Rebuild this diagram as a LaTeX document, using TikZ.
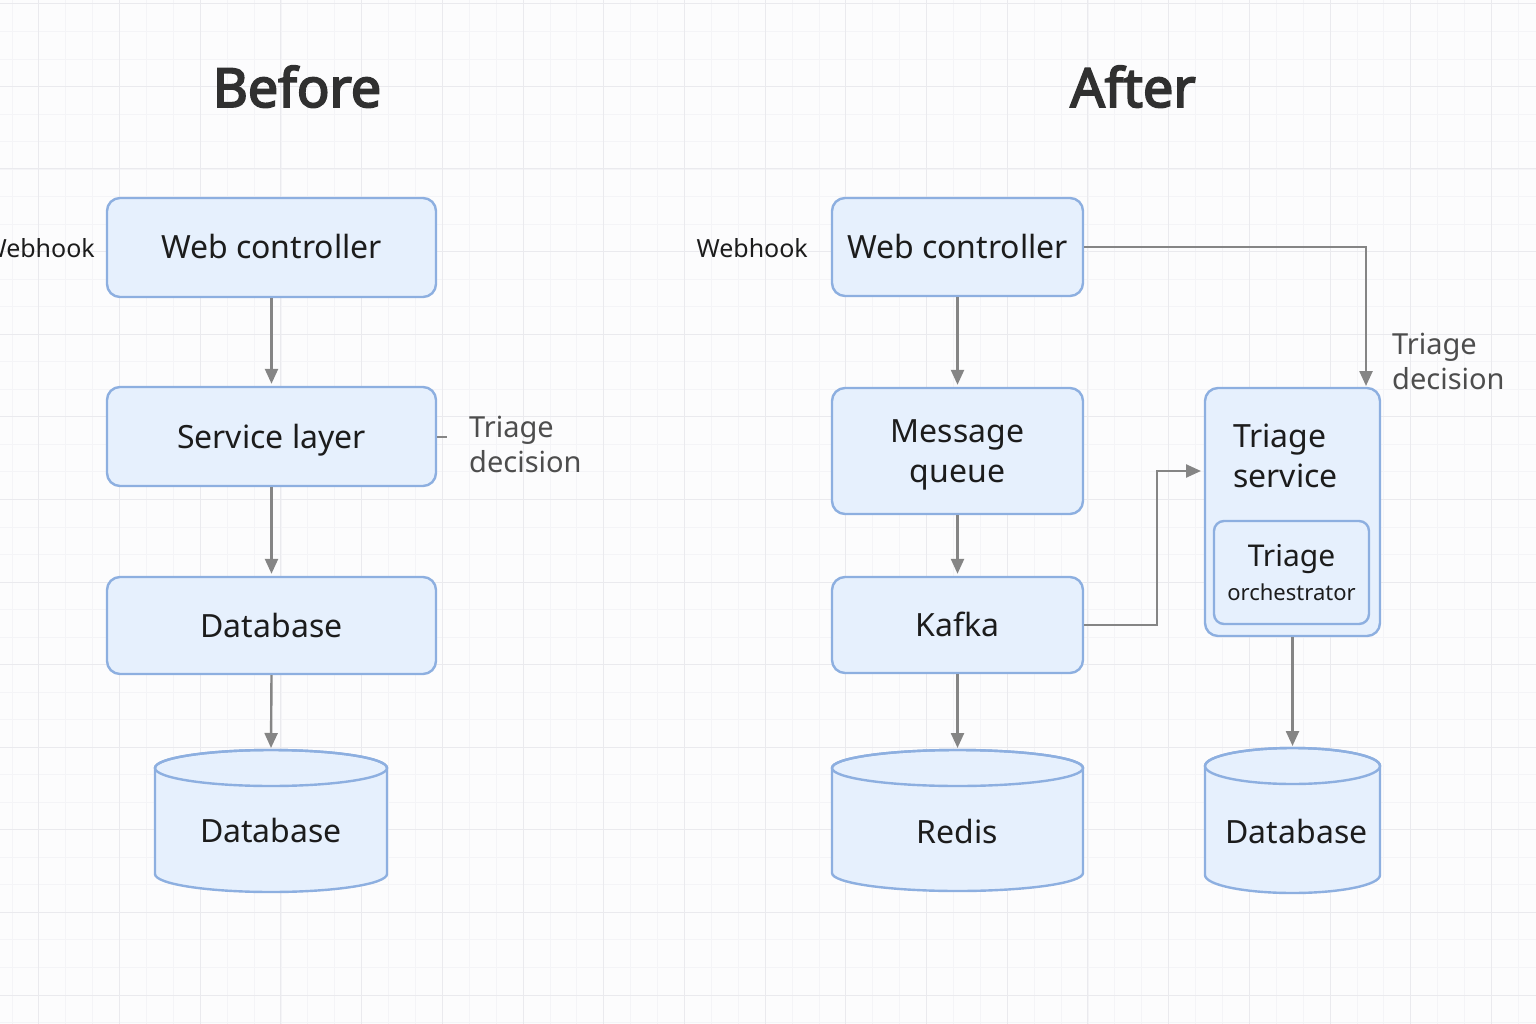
\documentclass[tikz,border=0pt]{standalone}
\usepackage{fontspec}
\setmainfont{Noto Sans}
\newfontfamily\titlefont{Noto Sans}[AutoFakeBold=3.4]
\usetikzlibrary{arrows.meta,calc}
\definecolor{bgc}{HTML}{FCFCFD}
\definecolor{gridminor}{HTML}{F4F4F7}
\definecolor{gridmajor}{HTML}{EAEAEE}
\definecolor{boxfill}{HTML}{E6F0FD}
\definecolor{boxline}{HTML}{8DAFE0}
\definecolor{arrowc}{HTML}{858585}
\definecolor{txtc}{HTML}{1C1C1C}
\definecolor{labc}{HTML}{4D4D4D}
\definecolor{titc}{HTML}{303030}
\newcommand\drawcyl[2]{%
  \path[cylfill] ([yshift=-18pt]#1.north west) -- ([yshift=18pt]#1.south west)
     arc[start angle=180,end angle=360,x radius=#2pt,y radius=18pt]
     -- ([yshift=-18pt]#1.north east)
     arc[start angle=0,end angle=180,x radius=#2pt,y radius=18pt] -- cycle;
  \draw[cylline] ([yshift=-18pt]#1.north) ellipse[x radius=#2pt,y radius=18pt];}
\begin{document}
\begin{tikzpicture}[x=1pt,y=1pt,
  box/.style={draw=boxline, line width=2.4pt, fill=boxfill, rounded corners=13pt,
     text=txtc, font=\fontsize{32}{40}\selectfont, text height=23pt, text depth=0pt, inner sep=0pt},
  multibox/.style={box, text height=, text depth=, align=center},
  innerbox/.style={draw=boxline, line width=2.4pt, fill=boxfill, rounded corners=10pt, inner sep=0pt},
  cylbox/.style={draw=none, inner sep=0pt, outer sep=0pt},
  cylfill/.style={draw=boxline, line width=2.4pt, fill=boxfill},
  cylline/.style={draw=boxline, line width=2.4pt},
  cyltext/.style={text=txtc, font=\fontsize{32}{40}\selectfont, text height=23pt, text depth=0pt, inner sep=0pt},
  lab/.style={text=labc, font=\fontsize{29}{35}\selectfont, align=left, inner sep=0pt},
  hook/.style={text=txtc, font=\fontsize{25}{30}\selectfont, text height=18pt, text depth=0pt, inner sep=0pt},
  title/.style={text=titc, font=\titlefont\fontsize{54}{60}\selectfont\bfseries, inner sep=0pt},
  arr/.style={draw=arrowc, line width=2.4pt, -{Triangle[length=15pt,width=13pt]}, shorten >=2pt},
  tick/.style={draw=arrowc, line width=2.4pt}
]
\useasboundingbox (0,0) rectangle (1536,-1024);
\fill[bgc] (0,0) rectangle (1536,-1024);
% grid
\foreach \i in {-20,...,38} \draw[gridminor, line width=0.8pt] ({523+26.9*\i},0) -- ({523+26.9*\i},-1024);
\foreach \i in {-21,...,16} \draw[gridminor, line width=0.8pt] (0,{-582-27.53*\i}) -- (1536,{-582-27.53*\i});
\foreach \i in {-6,...,12} \draw[gridmajor, line width=1pt] ({523+80.7*\i},0) -- ({523+80.7*\i},-1024);
\foreach \i in {-7,...,5} \draw[gridmajor, line width=1pt] (0,{-582-82.6*\i}) -- (1536,{-582-82.6*\i});

% titles
\node[title, anchor=base] (tbefore) at (297,-107) {Before};
\node[title, anchor=base] (tafter) at (1133,-107) {After};

% ---------- Before ----------
\node[box, minimum width=329pt, minimum height=99pt] (bwc) at (271.5,-247.5) {Web controller};
\node[hook, anchor=east] (bhook) at (95,-249) {Webhook};
\node[box, minimum width=329pt, minimum height=99pt] (bsl) at (271.5,-436.5) {Service layer};
\node[box, minimum width=329pt, minimum height=97pt] (bdb) at (271.5,-625.5) {Database};
\node[cylbox, minimum width=232pt, minimum height=142pt] (bcyl) at (271,-821) {};
\drawcyl{bcyl}{116}
\node[cyltext] (bcylt) at ([yshift=-10pt]bcyl.center) {Database};
\coordinate (btick) at (447,-437);
\draw[tick] (bsl.east |- btick) -- (btick);
\node[lab, anchor=north west] (btri) at (469,-416) {Triage\\decision};

\draw[arr] (bwc.south) -- (bsl.north);
\draw[arr] (bsl.south) -- (bdb.north);
\draw[arr] (bdb.south) -- (bcyl.north);

% ---------- After ----------
\node[box, minimum width=251pt, minimum height=98pt] (awc) at (957.5,-247) {Web controller};
\node[hook, anchor=east] (ahook) at (808,-249) {Webhook};
\node[multibox, minimum width=251pt, minimum height=126pt] (amq) at (957.5,-451) {\raisebox{0pt}[\dimexpr\height+8pt\relax]{Message}\\queue};
\node[box, minimum width=251pt, minimum height=96pt] (akf) at (957.5,-625) {Kafka};
\node[cylbox, minimum width=251pt, minimum height=141pt] (ared) at (957.5,-820.5) {};
\drawcyl{ared}{125.5}
\node[cyltext] (aredt) at ([yshift=-11pt]ared.center) {Redis};

\node[box, minimum width=175pt, minimum height=248pt] (ats) at (1292.5,-512) {};
\node[multibox, draw=none, fill=none, align=left, anchor=west] (atst) at (1232,-456) {Triage\\service};
\node[innerbox, minimum width=155pt, minimum height=103pt, align=center, text=txtc,
      font=\fontsize{22}{34}\selectfont] (aorch) at (1291.5,-572.5)
      {{\fontsize{30}{34}\selectfont Triage}\\orchestrator};
\node[cylbox, minimum width=175pt, minimum height=145pt] (adb) at (1292.5,-820.5) {};
\drawcyl{adb}{87.5}
\node[cyltext] (adbt) at ([xshift=4pt,yshift=-11.5pt]adb.center) {Database};
\node[lab, anchor=north west] (atri) at (1392,-333) {Triage\\decision};

\coordinate (atsin) at (1366,-388);
\coordinate (atsleft) at (1205,-471);
\draw[arr] (awc.south) -- (amq.north);
\draw[arr] (amq.south) -- (akf.north);
\draw[arr] (akf.south) -- (ared.north);
\draw[arr] (awc.east) -| (atsin);
\draw[arr, shorten >=4pt] (akf.east) -- ++(73,0) |- (atsleft);
\draw[arr] (ats.south) -- (adb.north);
\end{tikzpicture}
\end{document}
